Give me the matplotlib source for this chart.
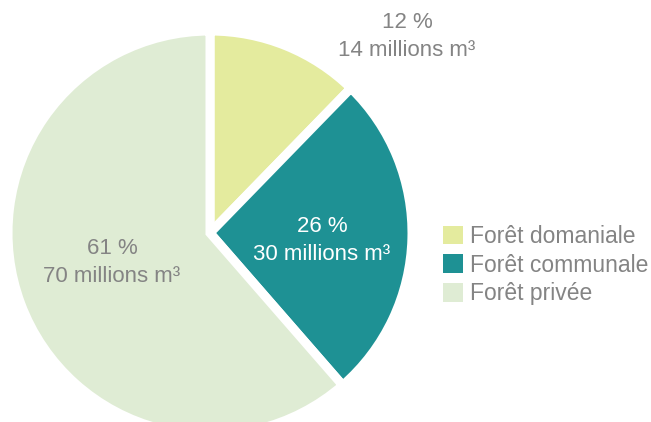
import matplotlib.pyplot as plt
import numpy as np

plt.rcParams['font.family'] = ['Liberation Sans', 'DejaVu Sans']

labels = ["Forêt domaniale", "Forêt communale", "Forêt privée"]
volumes = [14, 30, 70]  # millions m3
colors = ["#e4eb9e", "#1e9194", "#dfecd4"]
text_colors = ["#848484", "white", "#848484"]

# pixel positions of the labels (x, y from top)
label_pos = [(407, 22), (322, 227), (112, 248)]

fig = plt.figure(figsize=(6.51, 4.22), dpi=100)
ax = fig.add_axes([0, 0, 1, 1])

wedges, _ = ax.pie(volumes, colors=colors, startangle=90, counterclock=False,
                   center=(210, 422 - 233), radius=202,
                   wedgeprops=dict(edgecolor='white', linewidth=6.5))

# pie() resets the limits, so set them afterwards
ax.set_xlim(0, 651)
ax.set_ylim(0, 422)
ax.set_aspect('equal')
ax.axis('off')

total = sum(volumes)
for v, (x, y), c in zip(volumes, label_pos, text_colors):
    pct = round(100 * v / total)
    ax.text(x, 422 - y, f"{pct} %", ha='center', va='center', fontsize=16, color=c)
    ax.text(x, 422 - y - 28, f"{v} millions m³", ha='center', va='center',
            fontsize=16, color=c)

leg = ax.legend(wedges, labels, loc='center left', bbox_to_anchor=(443 / 651, 1 - 265 / 422),
                frameon=False, fontsize=16.5, handlelength=0.87, handleheight=0.87,
                handletextpad=0.3, labelspacing=0.25, borderpad=0, borderaxespad=0)
for t in leg.get_texts():
    t.set_color("#848484")
for h in leg.legend_handles:
    h.set_linewidth(0)

plt.savefig('out.png', dpi=100)
